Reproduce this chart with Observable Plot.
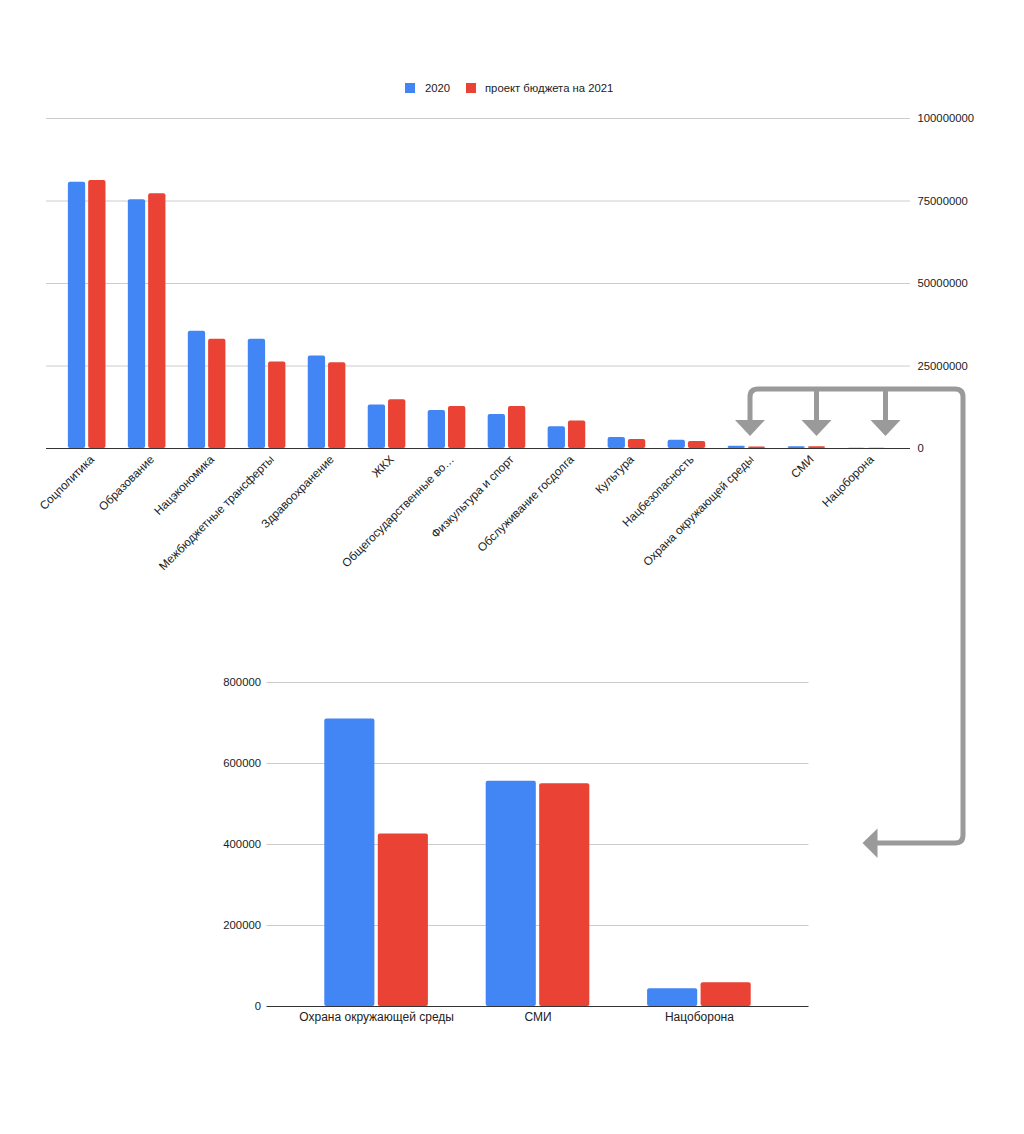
<!DOCTYPE html>
<html>
<head>
<meta charset="utf-8">
<script src="https://cdn.jsdelivr.net/npm/d3@7"></script>
<script src="https://cdn.jsdelivr.net/npm/@observablehq/plot@0.6"></script>
<style>
  html, body { margin: 0; padding: 0; background: #fff; }
  #root { position: relative; width: 1024px; height: 1134px; overflow: hidden; font-family: "Liberation Sans", Arial, sans-serif; }
  #legend { position: absolute; left: 0; top: 80px; width: 1024px; height: 16px; font-size: 11.3px; color: #222; }
  .sw { position: absolute; top: 3px; width: 10px; height: 10px; }
  .lt { position: absolute; top: 0px; line-height: 16px; white-space: nowrap; }
  #top { position: absolute; left: 0; top: 100px; }
  #bottom { position: absolute; left: 0; top: 660px; }
  #arrows { position: absolute; left: 0; top: 0; pointer-events: none; }
</style>
</head>
<body>
<div id="root">
  <div id="legend"></div>
  <div id="top"></div>
  <div id="bottom"></div>
  <svg id="arrows" width="1024" height="1134" xmlns="http://www.w3.org/2000/svg">
    <g stroke="#9a9a9a" stroke-width="5" fill="none" stroke-linejoin="round">
      <path d="M750,421 V397 Q750,389 758,389 H955 Q963,389 963,397 V835 Q963,843 955,843 H877"/>
      <path d="M816.5,389 V421"/>
      <path d="M885.5,389 V421"/>
    </g>
    <g fill="#9a9a9a">
      <polygon points="735,420 765,420 750,436"/>
      <polygon points="801.5,420 831.5,420 816.5,436"/>
      <polygon points="870.5,420 900.5,420 885.5,436"/>
      <polygon points="862.5,843 877.5,828.5 877.5,858"/>
    </g>
  </svg>
</div>
<script>
// ---- data ----
const categories = [
  "Соцполитика", "Образование", "Нацэкономика", "Межбюджетные трансферты",
  "Здравоохранение", "ЖКХ", "Общегосударственные во…", "Физкультура и спорт",
  "Обслуживание госдолга", "Культура", "Нацбезопасность",
  "Охрана окружающей среды", "СМИ", "Нацоборона"
];
const values2020 = [80700000, 75400000, 35500000, 33100000, 28000000, 13200000, 11500000,
  10300000, 6600000, 3300000, 2500000, 710000, 556000, 44000];
const values2021 = [81200000, 77200000, 33100000, 26200000, 26000000, 14800000, 12700000,
  12700000, 8300000, 2700000, 2100000, 426000, 550000, 58500];
const seriesNames = ["2020", "проект бюджета на 2021"];
const seriesColors = ["#4285f4", "#ea4335"];
const topTicks = [0, 25000000, 50000000, 75000000, 100000000];
const bottomCategories = ["Охрана окружающей среды", "СМИ", "Нацоборона"];
const bottomTicks = [0, 200000, 400000, 600000, 800000];

const rows = categories.map((c, i) => ({category: c, v2020: values2020[i], v2021: values2021[i]}));
const bottomRows = rows.filter(r => bottomCategories.includes(r.category));

const font = '"Liberation Sans", Arial, sans-serif';
const fmt = d => String(d);
const hasAxisMarks = typeof Plot.axisX === "function";

// ---- legend ----
const legend = document.getElementById("legend");
const legendX = [[405, 425], [466, 485]];
seriesNames.forEach((name, i) => {
  const sw = document.createElement("div");
  sw.className = "sw";
  sw.style.left = legendX[i][0] + "px";
  sw.style.background = seriesColors[i];
  legend.appendChild(sw);
  const t = document.createElement("div");
  t.className = "lt";
  t.style.left = legendX[i][1] + "px";
  t.textContent = name;
  legend.appendChild(t);
});

// ---- top chart ----
const topAxes = hasAxisMarks ? [
  Plot.axisX({tickSize: 0, tickPadding: 6, tickRotate: -45, fontSize: 11.7, dx: 5, dy: 3, label: null}),
  Plot.axisY({anchor: "right", ticks: topTicks, tickFormat: fmt, tickSize: 0, tickPadding: 7, label: null})
] : [];
const topChart = Plot.plot({
  width: 1024,
  height: 488,
  marginTop: 18,
  marginBottom: 140,
  marginLeft: 46,
  marginRight: 114,
  style: {fontFamily: font, fontSize: "11.3px", color: "#222", background: "transparent", overflow: "visible"},
  x: {domain: categories, range: [45.5, 907.5], padding: 0.373, round: false, label: null,
      tickSize: 0, tickPadding: 8, tickRotate: -45, axis: hasAxisMarks ? null : "bottom"},
  y: {domain: [0, 100000000], ticks: topTicks, tickFormat: fmt, label: null,
      tickSize: 0, tickPadding: 7, axis: hasAxisMarks ? null : "right"},
  marks: [
    Plot.ruleY(topTicks.slice(1), {stroke: "#cccccc"}),
    Plot.barY(rows, {x: "category", y: "v2020", fill: seriesColors[0], insetRight: 20.3, rx: 2}),
    Plot.barY(rows, {x: "category", y: "v2021", fill: seriesColors[1], insetLeft: 20.3, rx: 2}),
    Plot.ruleY([0], {stroke: "#333333"}),
    ...topAxes
  ]
});
document.getElementById("top").appendChild(topChart);

// ---- bottom chart ----
const bottomAxes = hasAxisMarks ? [
  Plot.axisX({tickSize: 0, tickPadding: 6, fontSize: 12, label: null}),
  Plot.axisY({anchor: "left", ticks: bottomTicks, tickFormat: fmt, tickSize: 0, tickPadding: 6, label: null})
] : [];
const bottomChart = Plot.plot({
  width: 1024,
  height: 380,
  marginTop: 22,
  marginBottom: 34,
  marginLeft: 266.5,
  marginRight: 215.5,
  style: {fontFamily: font, fontSize: "11.3px", color: "#222", background: "transparent", overflow: "visible"},
  x: {domain: bottomCategories, padding: 0.358, round: false, label: null, tickSize: 0, tickPadding: 6,
      axis: hasAxisMarks ? null : "bottom"},
  y: {domain: [0, 800000], ticks: bottomTicks, tickFormat: fmt, label: null, tickSize: 0, tickPadding: 6,
      axis: hasAxisMarks ? null : "left"},
  marks: [
    Plot.ruleY(bottomTicks.slice(1), {stroke: "#cccccc"}),
    Plot.barY(bottomRows, {x: "category", y: "v2020", fill: seriesColors[0], insetRight: 53.5, rx: 2}),
    Plot.barY(bottomRows, {x: "category", y: "v2021", fill: seriesColors[1], insetLeft: 53.5, rx: 2}),
    Plot.ruleY([0], {stroke: "#333333"}),
    ...bottomAxes
  ]
});
document.getElementById("bottom").appendChild(bottomChart);
</script>
</body>
</html>
